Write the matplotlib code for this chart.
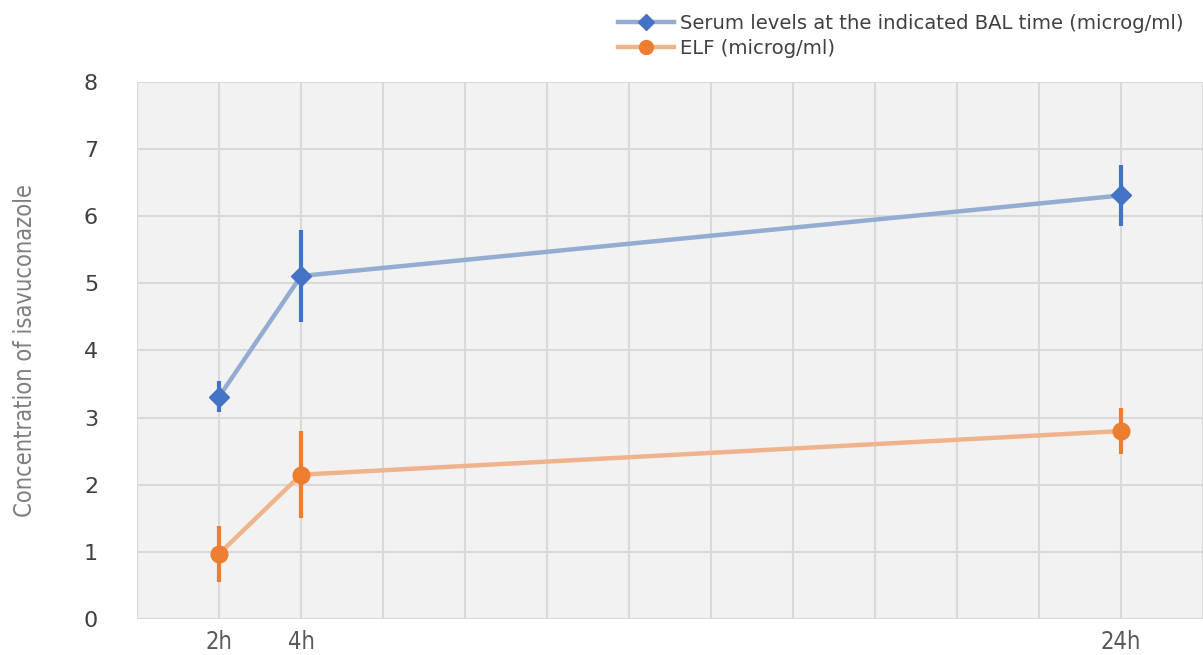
import matplotlib.pyplot as plt
from matplotlib.lines import Line2D

hours = [2, 4, 24]
serum = [3.31, 5.11, 6.31]
serum_err = [0.23, 0.68, 0.45]
elf = [0.97, 2.15, 2.80]
elf_err = [0.42, 0.65, 0.34]
tick_hours = list(range(0, 27, 2))
tick_labels = ['2h' if h == 2 else '4h' if h == 4 else '24h' if h == 24 else '' for h in tick_hours]

fig = plt.figure(figsize=(12.03, 6.55), dpi=100)
ax = fig.add_axes([137 / 1203, 1 - 619 / 655, 1 - 137 / 1203, (619 - 82) / 655])
ax.set_facecolor('#f2f2f2')

ax.plot(hours, serum, color='#94abd2', lw=3.2, zorder=3)
ax.errorbar(hours, serum, yerr=serum_err, fmt='D', color='#4472c4', ms=10,
            elinewidth=3, capsize=0, zorder=4)
ax.plot(hours, elf, color='#f0b48c', lw=3.2, zorder=3)
ax.errorbar(hours, elf, yerr=elf_err, fmt='o', color='#ed7d31', ms=12,
            elinewidth=3, capsize=0, zorder=4)

ax.set_xlim(0, 26)
ax.set_ylim(0, 8)
ax.set_xticks(tick_hours)
ax.set_xticklabels(tick_labels, family='DejaVu Sans', stretch='condensed',
                   fontsize=17, color='#595959')
ax.set_yticks(range(0, 9))
ax.tick_params(axis='y', labelsize=16, labelcolor='#404040', length=0, pad=28)
ax.tick_params(axis='x', length=0, pad=8)
ax.grid(True, color='#d9d9d9', lw=1.5, zorder=0)
ax.set_axisbelow(True)
for s in ax.spines.values():
    s.set_visible(False)
ax.set_ylabel('Concentration of isavuconazole', family='DejaVu Sans', stretch='condensed',
              fontsize=17, color='#7f7f7f', labelpad=34)

# legend with line + marker handles
h1 = Line2D([], [], color='#94abd2', lw=3.2, marker='D', ms=8,
            mfc='#4472c4', mec='#4472c4')
h2 = Line2D([], [], color='#f0b48c', lw=3.2, marker='o', ms=10,
            mfc='#ed7d31', mec='#ed7d31')
fig.legend([h1, h2], ['Serum levels at the indicated BAL time (microg/ml)', 'ELF (microg/ml)'],
           loc='upper left', bbox_to_anchor=(600 / 1203, 1.005), frameon=False,
           fontsize=14.1, labelcolor='#404040', handlelength=2.9, handletextpad=0.3,
           labelspacing=0.3)

fig.savefig('out.png', dpi=100)
